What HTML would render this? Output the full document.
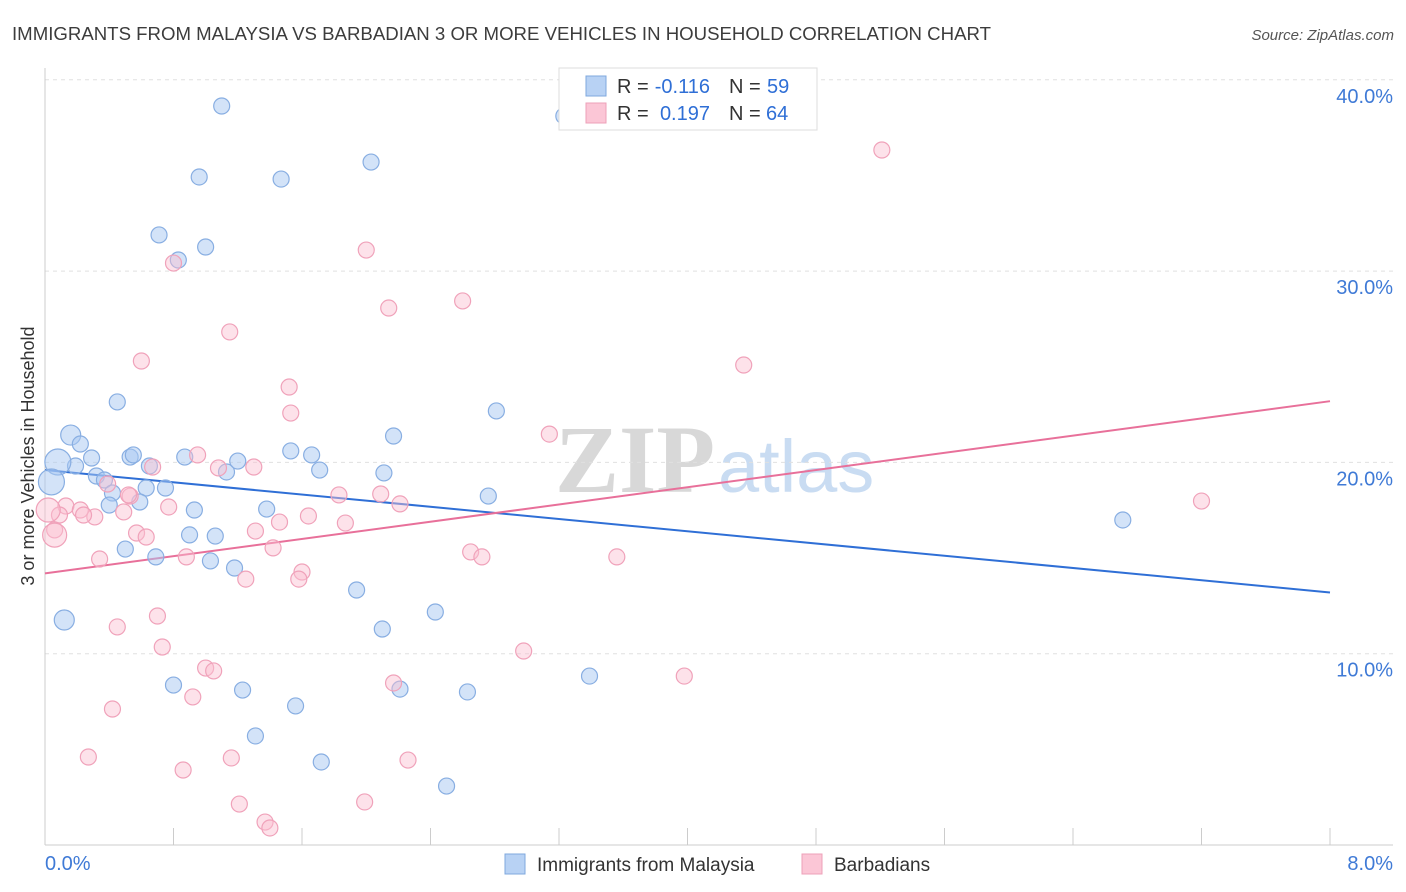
<!DOCTYPE html>
<html><head><meta charset="utf-8"><style>
body{margin:0;background:#fff;font-family:"Liberation Sans",sans-serif;}
#wrap{position:relative;width:1406px;height:892px;overflow:hidden}
</style></head><body>
<div id="wrap">
<svg id="svg" width="1406" height="892" xmlns="http://www.w3.org/2000/svg">
<text x="12" y="40" font-size="18" fill="#3c3c3c" textLength="979" lengthAdjust="spacingAndGlyphs">IMMIGRANTS FROM MALAYSIA VS BARBADIAN 3 OR MORE VEHICLES IN HOUSEHOLD CORRELATION CHART</text>
<text x="1394" y="40" font-size="15" font-style="italic" fill="#555" text-anchor="end">Source: ZipAtlas.com</text>
<text transform="translate(34,456) rotate(-90)" font-size="18" fill="#333" text-anchor="middle">3 or more Vehicles in Household</text>
<g><text x="555" y="492" font-size="96" font-family="Liberation Serif" fill="#d8d8d8" font-weight="bold">ZIP</text><text x="718" y="492" font-size="74" fill="#c9dcf2">atlas</text></g>
<g id="grid"></g><g id="axes"></g><g id="lines"></g><g id="pts"></g>
<g>
<rect x="559" y="68" width="258" height="62" fill="#fff" stroke="#ddd"/>
<rect x="586" y="76" width="20" height="20" fill="#b8d2f4" stroke="#7fa8de"/>
<rect x="586" y="103" width="20" height="20" fill="#fbc6d6" stroke="#eea0b8"/>
<text x="617" y="93" font-size="20" fill="#333">R =</text>
<text x="710" y="93" font-size="20" fill="#2f6fd6" text-anchor="end">-0.116</text>
<text x="729" y="93" font-size="20" fill="#333">N =</text>
<text x="767" y="93" font-size="20" fill="#2f6fd6">59</text>
<text x="617" y="120" font-size="20" fill="#333">R =</text>
<text x="710" y="120" font-size="20" fill="#2f6fd6" text-anchor="end">0.197</text>
<text x="729" y="120" font-size="20" fill="#333">N =</text>
<text x="766" y="120" font-size="20" fill="#2f6fd6">64</text>
</g>
<g>
<rect x="505" y="854" width="20" height="20" fill="#b8d2f4" stroke="#7fa8de"/>
<text x="537" y="871" font-size="19" fill="#333">Immigrants from Malaysia</text>
<rect x="802" y="854" width="20" height="20" fill="#fbc6d6" stroke="#eea0b8"/>
<text x="834" y="871" font-size="19" fill="#333">Barbadians</text>
</g>
</svg>
</div>
<script>
const blueX=[1.10,0.96,1.47,2.03,3.23,0.71,1.00,0.83,0.45,0.16,0.22,0.29,0.19,0.08,0.04,0.32,0.37,0.42,0.40,0.53,0.55,0.65,0.63,0.75,0.59,0.87,1.13,1.20,0.93,0.90,1.06,1.38,1.53,1.66,1.71,2.11,2.17,2.81,2.76,0.50,0.69,1.03,1.18,1.94,2.10,2.43,0.12,0.80,1.23,1.56,1.31,1.72,2.21,2.63,2.50,3.39,6.71];
const blueY=[38.63,34.92,34.81,35.70,38.11,31.89,31.26,30.58,23.16,21.43,20.96,20.23,19.81,20.02,18.98,19.29,19.08,18.40,17.77,20.28,20.39,19.81,18.66,18.66,17.93,20.28,19.50,20.07,17.51,16.21,16.15,17.56,20.60,20.39,19.60,19.45,21.38,22.69,18.24,15.47,15.06,14.85,14.48,13.33,11.29,12.18,11.76,8.36,8.10,7.27,5.70,4.34,8.15,8.00,3.08,8.83,16.99];
const pinkX=[5.21,2.00,0.80,2.60,2.14,1.15,0.60,4.35,1.52,1.53,3.14,0.95,1.08,1.30,0.67,0.39,0.53,0.13,0.09,0.22,0.31,0.24,0.06,0.49,0.77,0.52,1.83,2.09,2.21,1.31,1.46,1.64,1.87,0.57,0.63,0.88,0.34,1.42,2.65,2.72,3.56,1.60,1.58,1.25,0.70,0.45,0.73,2.98,1.00,1.05,3.98,2.17,0.92,0.42,0.27,0.86,1.16,2.26,1.21,1.99,1.37,1.40,7.20,0.02,0.06];
const pinkY=[36.33,31.10,30.42,28.44,28.07,26.82,25.30,25.09,23.94,22.58,21.48,20.39,19.71,19.76,19.76,18.87,18.24,17.72,17.25,17.51,17.15,17.25,16.47,17.41,17.67,18.30,18.30,18.35,17.83,16.41,16.88,17.20,16.83,16.31,16.10,15.06,14.95,15.53,15.32,15.06,15.06,14.27,13.90,13.90,11.97,11.40,10.35,10.14,9.25,9.10,8.83,8.47,7.74,7.11,4.60,3.92,4.55,4.44,2.14,2.25,1.20,0.89,17.98,17.51,16.2];
const blueTrend=[19.6,13.2];
const pinkTrend=[14.2,23.2];
const yTicks=[10,20,30,40];
const xTickCount=10;
const NS="http://www.w3.org/2000/svg";
const X0=45,X1=1330,Y0=845,PPY=19.13;
const sx=v=>X0+(v/8)*(X1-X0);
const sy=v=>Y0-v*PPY;
function mk(tag,attrs,parent){const e=document.createElementNS(NS,tag);for(const k in attrs)e.setAttribute(k,attrs[k]);document.getElementById(parent).appendChild(e);return e;}
yTicks.forEach(t=>{
 const l=mk('line',{x1:X0,x2:1393,y1:sy(t),y2:sy(t),stroke:'#e0e0e0','stroke-dasharray':'4,4'},'grid');
 
 
 const tx=mk('text',{x:1393,y:sy(t)+23,'font-size':20,fill:'#3f7ad6','text-anchor':'end'},'grid');
 tx.textContent=t.toFixed(1)+'%';
 
 
});
let ax=mk('line',{x1:X0,x2:X0,y1:68,y2:Y0,stroke:'#ccc'},'axes');


let bx=mk('line',{x1:X0,x2:1393,y1:Y0,y2:Y0,stroke:'#ccc'},'axes');


for(let i=1;i<=xTickCount;i++){
 const t=mk('line',{x1:sx(i*0.8),x2:sx(i*0.8),y1:Y0,y2:Y0-17,stroke:'#ccc'},'axes');
 
 
}
const xl=mk('text',{x:X0,y:870,'font-size':20,fill:'#3f7ad6'},'axes');xl.textContent='0.0%';


const xr=mk('text',{x:1393,y:870,'font-size':20,fill:'#3f7ad6','text-anchor':'end'},'axes');xr.textContent='8.0%';


const bigBlue=[9,13,14,46], bigPink=[63,64];
blueX.forEach((v,i)=>{
 const c=mk('circle',{cx:sx(v),cy:sy(blueY[i]),r:bigBlue.includes(i)?(i===13||i===14?13:10):8,fill:'rgba(168,200,242,0.5)',stroke:'#88aee2','stroke-width':1.2},'pts');
 
 
});
pinkX.forEach((v,i)=>{
 const c=mk('circle',{cx:sx(v),cy:sy(pinkY[i]),r:bigPink.includes(i)?12:8,fill:'rgba(250,190,208,0.45)',stroke:'#f0a2ba','stroke-width':1.2},'pts');
 
 
});
const bl=mk('line',{x1:sx(0),y1:sy(blueTrend[0]),x2:sx(8),y2:sy(blueTrend[1]),stroke:'#2f6fd6','stroke-width':2},'lines');


const pl=mk('line',{x1:sx(0),y1:sy(pinkTrend[0]),x2:sx(8),y2:sy(pinkTrend[1]),stroke:'#e8709a','stroke-width':2},'lines');


</script>
</body></html>
